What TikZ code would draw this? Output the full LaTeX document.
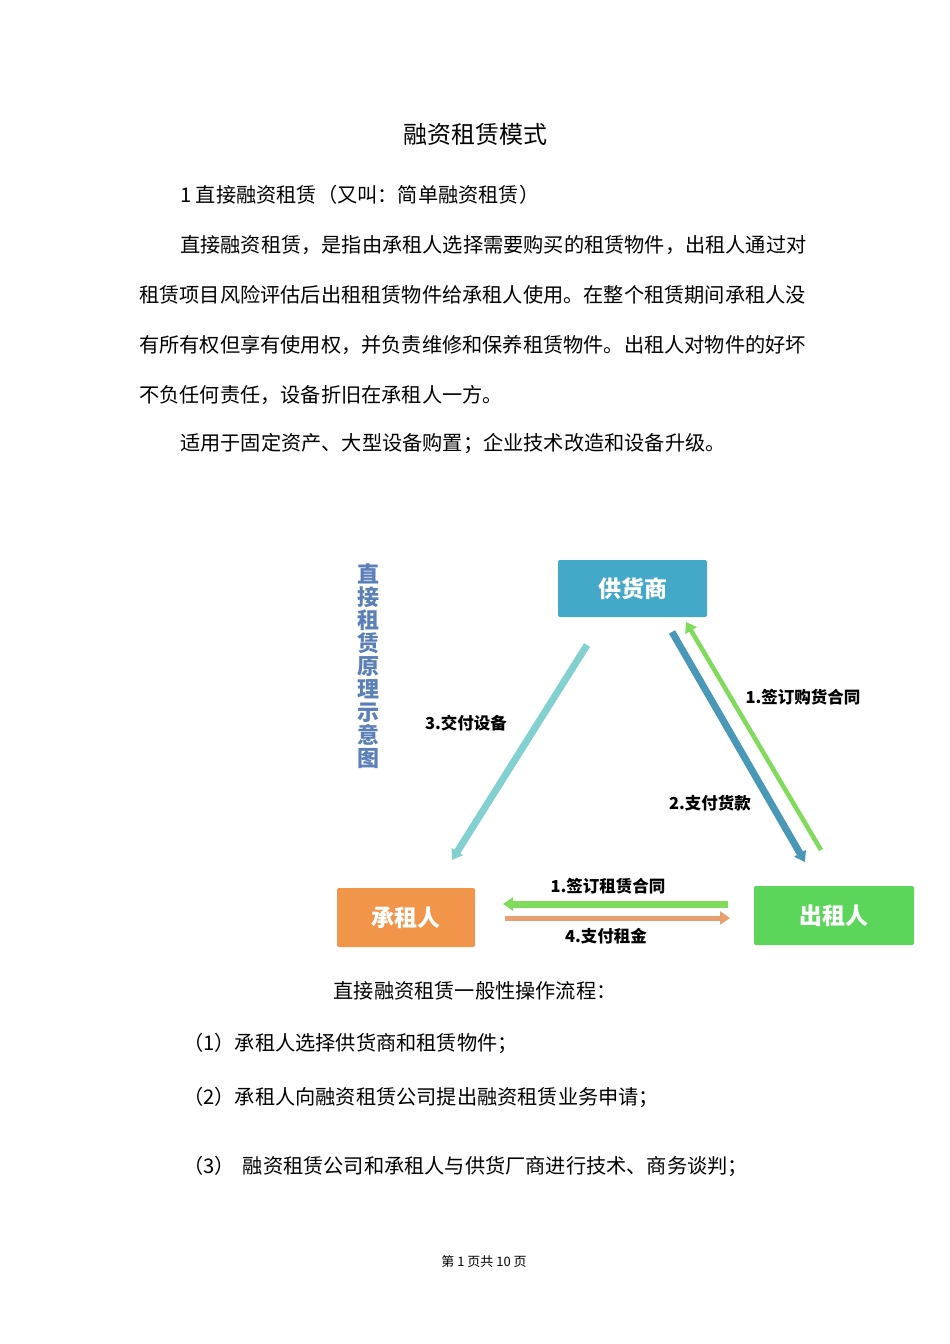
\documentclass[tikz,border=0pt]{standalone}
\usepackage{fontspec}
\setmainfont{Noto Sans CJK SC}
\usetikzlibrary{arrows.meta}
\definecolor{supc}{HTML}{44A8C8}
\definecolor{lesc}{HTML}{F0954A}
\definecolor{lorc}{HTML}{5CD65A}
\definecolor{ttlc}{HTML}{5B80B8}
\definecolor{tealc}{HTML}{82D0D0}
\definecolor{bluec}{HTML}{4A98B8}
\definecolor{grnc}{HTML}{80DA5C}
\definecolor{orgc}{HTML}{E8A070}
\begin{document}
\begin{tikzpicture}[x=1pt,y=-1pt,
 body/.style={anchor=west,inner sep=0,font=\fontsize{20.2}{20}\selectfont},
 boxn/.style={rounded corners=2pt,text=white,font=\fontsize{23}{23}\selectfont\bfseries,inner sep=0},
 lbl/.style={font=\fontsize{16.5}{16}\selectfont\bfseries,inner sep=0},
 arr/.style={line width=7pt,-{Triangle[length=10pt,width=13pt]}}]
\useasboundingbox[fill=white] (0,0) rectangle (950,1344);
\node[inner sep=0,font=\fontsize{24}{24}\selectfont] (title) at (475,134) {融资租赁模式};
\node[body] (h1) at (180,195) {1 直接融资租赁（又叫：简单融资租赁）};
\node[body] (p1) at (180,245) {直接融资租赁，是指由承租人选择需要购买的租赁物件，出租人通过对};
\node[body] (p2) at (139,295) {租赁项目风险评估后出租租赁物件给承租人使用。在整个租赁期间承租人没};
\node[body] (p3) at (139,345) {有所有权但享有使用权，并负责维修和保养租赁物件。出租人对物件的好坏};
\node[body] (p4) at (139,395) {不负任何责任，设备折旧在承租人一方。};
\node[body] (p5) at (180,444) {适用于固定资产、大型设备购置；企业技术改造和设备升级。};
% diagram
\node[boxn,fill=supc,minimum width=149pt,minimum height=57pt] (sup) at (632.5,588.5) {供货商};
\node[boxn,fill=lesc,minimum width=138pt,minimum height=59pt] (les) at (406,917.5) {承租人};
\node[boxn,fill=lorc,minimum width=160pt,minimum height=59pt] (lor) at (834,915.5) {出租人};
\node[align=center,text=ttlc,font=\fontsize{22}{23}\selectfont\bfseries,inner sep=0] (vt) at (368,666) {直\\接\\租\\赁\\原\\理\\示\\意\\图};
\coordinate (a3s) at (587,645); \coordinate (a3e) at (452,860);
\coordinate (a2s) at (672,632); \coordinate (a2e) at (805,862);
\coordinate (a1s) at (821,850); \coordinate (a1e) at (686,622);
\coordinate (bgs) at (728,904); \coordinate (bge) at (503,904);
\coordinate (bos) at (505,918); \coordinate (boe) at (730,918);
\draw[arr,tealc] (a3s) -- (a3e);
\draw[arr,bluec] (a2s) -- (a2e);
\draw[arr,grnc,line width=4.5pt] (a1s) -- (a1e);
\draw[arr,grnc] (bgs) -- (bge);
\draw[arr,orgc,line width=5pt] (bos) -- (boe);
\node[lbl] (l3) at (466,723) {3.交付设备};
\node[lbl] (l1) at (803,697) {1.签订购货合同};
\node[lbl] (l2) at (710,803) {2.支付货款};
\node[lbl] (lb1) at (608,886) {1.签订租赁合同};
\node[lbl] (lb4) at (606,936) {4.支付租金};
\node[inner sep=0,font=\fontsize{20.2}{20}\selectfont] (flow) at (475,991) {直接融资租赁一般性操作流程：};
\node[body] (s1) at (183,1043) {（1）承租人选择供货商和租赁物件；};
\node[body] (s2) at (183,1097) {（2）承租人向融资租赁公司提出融资租赁业务申请；};
\node[body] (s3) at (183,1166) {（3）\hspace{8pt}融资租赁公司和承租人与供货厂商进行技术、商务谈判；};
\node[inner sep=0,font=\fontsize{13}{13}\selectfont] (foot) at (484,1262) {第 1 页共 10 页};
\end{tikzpicture}
\end{document}
